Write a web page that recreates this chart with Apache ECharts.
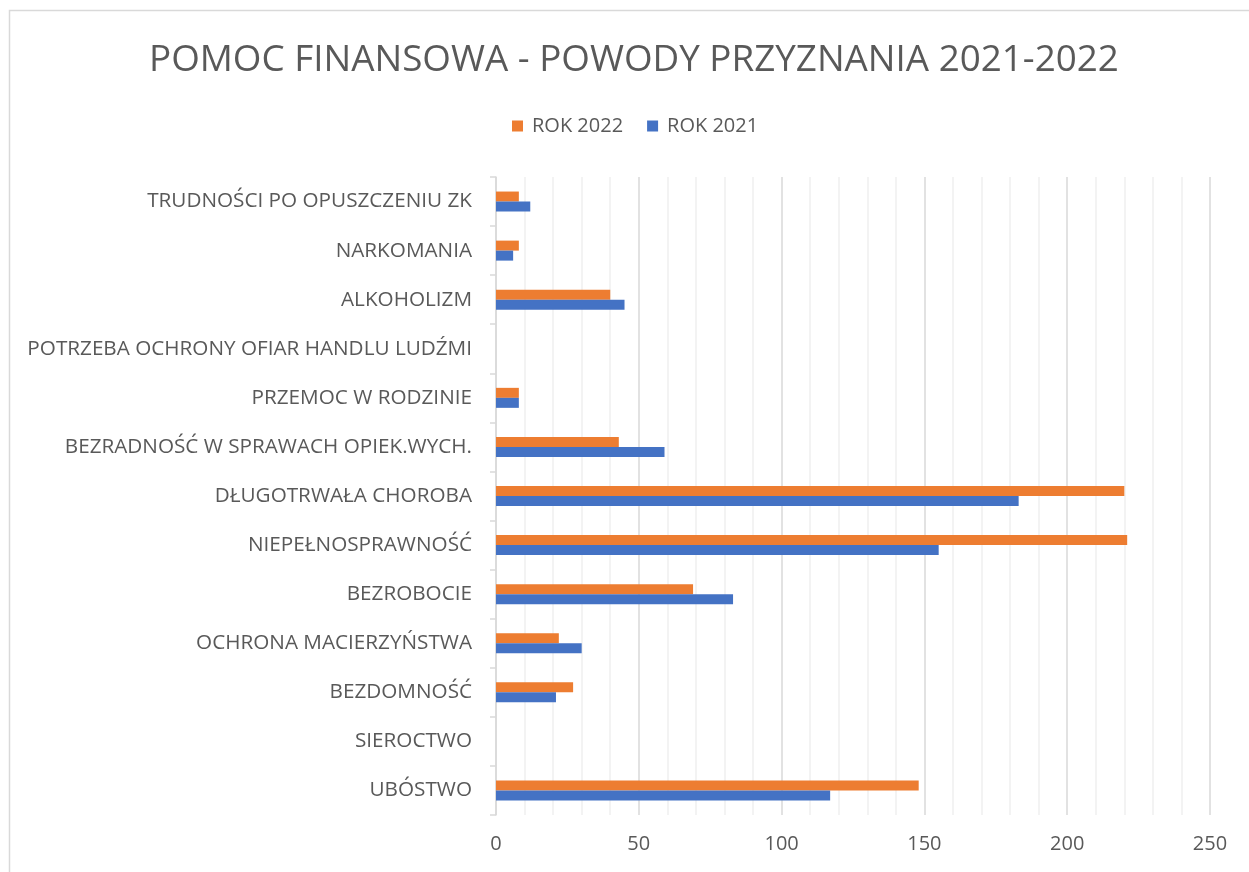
<!DOCTYPE html>
<html>
<head>
<meta charset="utf-8">
<script src="https://cdn.jsdelivr.net/npm/echarts@6/dist/echarts.min.js"></script>
<style>html,body{margin:0;padding:0;background:#fff}#c{width:1249px;height:872px}</style>
</head>
<body>
<div id="c"></div>
<script>
const categories = ['UBÓSTWO','SIEROCTWO','BEZDOMNOŚĆ','OCHRONA MACIERZYŃSTWA','BEZROBOCIE','NIEPEŁNOSPRAWNOŚĆ','DŁUGOTRWAŁA CHOROBA','BEZRADNOŚĆ W SPRAWACH OPIEK.WYCH.','PRZEMOC W RODZINIE','POTRZEBA OCHRONY OFIAR HANDLU LUDŹMI','ALKOHOLIZM','NARKOMANIA','TRUDNOŚCI PO OPUSZCZENIU ZK'];
const rok2022 = [148,0,27,22,69,221,220,43,8,0,40,8,8];
const rok2021 = [117,0,21,30,83,155,183,59,8,0,45,6,12];
const xTicks = [0,50,100,150,200,250];

const font = '"Open Sans", sans-serif';
const chart = echarts.init(document.getElementById('c'));
chart.setOption({
  animation:false,
  backgroundColor:'#fff',
  graphic:[{type:'rect',shape:{x:9.5,y:10.5,width:1300,height:900},style:{fill:'none',stroke:'#d9d9d9',lineWidth:1.5},silent:true}],
  title:{text:'POMOC FINANSOWA - POWODY PRZYZNANIA 2021-2022',left:144,top:37,textStyle:{fontFamily:font,fontSize:36.8,fontWeight:'normal',color:'#595959'}},
  legend:{top:111,left:507,itemWidth:11,itemHeight:11,itemGap:24,icon:'rect',textStyle:{fontFamily:font,fontSize:20,color:'#595959',padding:[0,0,0,4]},data:['ROK 2022','ROK 2021']},
  grid:{left:496,right:39,top:177,bottom:57,containLabel:false},
  xAxis:{type:'value',min:xTicks[0],max:xTicks[xTicks.length-1],interval:50,
    axisLine:{show:false},axisTick:{show:false},
    axisLabel:{fontFamily:font,fontSize:20,color:'#595959',margin:19},
    splitLine:{show:true,lineStyle:{color:'#d9d9d9',width:1.5}},
    minorTick:{show:false,splitNumber:5},
    minorSplitLine:{show:true,lineStyle:{color:'#efefef',width:1.5}}},
  yAxis:{type:'category',data:categories,
    axisLine:{show:true,lineStyle:{color:'#d9d9d9',width:1.5}},
    axisTick:{show:true,length:6,lineStyle:{color:'#d9d9d9',width:1.5}},
    axisLabel:{fontFamily:font,fontSize:20.7,color:'#595959',margin:24}},
  series:[
    {name:'ROK 2022',type:'bar',data:rok2022,barWidth:10,barGap:'0%',itemStyle:{color:'#ed7d31'}},
    {name:'ROK 2021',type:'bar',data:rok2021,barWidth:10,barGap:'0%',itemStyle:{color:'#4472c4'}}
  ]
});
</script>
</body>
</html>
